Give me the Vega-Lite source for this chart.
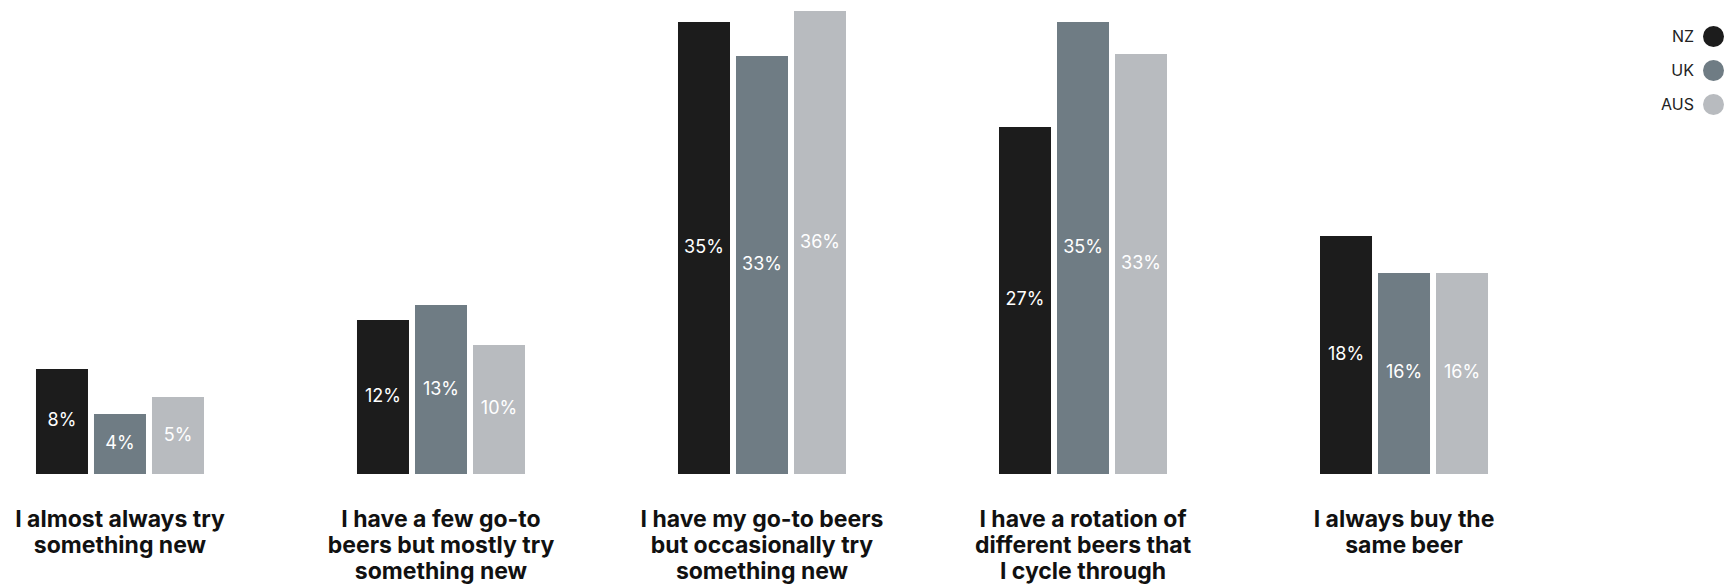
{
  "$schema": "https://vega.github.io/schema/vega-lite/v6.json",
  "width": 1524,
  "height": 474,
  "padding": {"left": 0, "top": 0, "right": 211, "bottom": 112},
  "autosize": {"type": "none"},
  "background": "white",
  "config": {"view": {"stroke": null}, "font": "Inter"},
  "data": {
    "values": [
      {"cat": "I almost always try|something new", "country": "NZ", "value": 8.2, "label": "8%"},
      {"cat": "I almost always try|something new", "country": "UK", "value": 4.68, "label": "4%"},
      {"cat": "I almost always try|something new", "country": "AUS", "value": 6.01, "label": "5%"},
      {"cat": "I have a few go-to|beers but mostly try|something new", "country": "NZ", "value": 12.02, "label": "12%"},
      {"cat": "I have a few go-to|beers but mostly try|something new", "country": "UK", "value": 13.19, "label": "13%"},
      {"cat": "I have a few go-to|beers but mostly try|something new", "country": "AUS", "value": 10.07, "label": "10%"},
      {"cat": "I have my go-to beers|but occasionally try|something new", "country": "NZ", "value": 35.28, "label": "35%"},
      {"cat": "I have my go-to beers|but occasionally try|something new", "country": "UK", "value": 32.63, "label": "33%"},
      {"cat": "I have my go-to beers|but occasionally try|something new", "country": "AUS", "value": 36.14, "label": "36%"},
      {"cat": "I have a rotation of|different beers that|I cycle through", "country": "NZ", "value": 27.09, "label": "27%"},
      {"cat": "I have a rotation of|different beers that|I cycle through", "country": "UK", "value": 35.28, "label": "35%"},
      {"cat": "I have a rotation of|different beers that|I cycle through", "country": "AUS", "value": 32.78, "label": "33%"},
      {"cat": "I always buy the|same beer", "country": "NZ", "value": 18.58, "label": "18%"},
      {"cat": "I always buy the|same beer", "country": "UK", "value": 15.69, "label": "16%"},
      {"cat": "I always buy the|same beer", "country": "AUS", "value": 15.69, "label": "16%"}
    ]
  },
  "encoding": {
    "x": {
      "field": "cat", "type": "nominal", "sort": null,
      "scale": {"paddingInner": 0.4766, "paddingOuter": 0.1121},
      "axis": {
        "title": null, "domain": false, "ticks": false,
        "labelAngle": 0, "labelExpr": "split(datum.label, '|')",
        "labelFont": "Inter", "labelFontWeight": "bold", "labelFontSize": 23,
        "labelColor": "#111111", "labelLineHeight": 26, "labelPadding": 34,
        "labelBaseline": "top", "labelLimit": 0, "labelOverlap": false
      }
    },
    "xOffset": {
      "field": "country", "type": "nominal",
      "scale": {"domain": ["NZ", "UK", "AUS"], "paddingInner": 0.1034, "paddingOuter": 0}
    }
  },
  "layer": [
    {
      "mark": {"type": "bar"},
      "encoding": {
        "y": {"field": "value", "type": "quantitative", "scale": {"domain": [0, 37], "nice": false}, "axis": null},
        "color": {
          "field": "country", "type": "nominal",
          "scale": {"domain": ["NZ", "UK", "AUS"], "range": ["#1c1c1c", "#6f7c84", "#b8bbbf"]},
          "legend": {
            "title": null, "orient": "none", "legendX": 1703, "legendY": 26,
            "symbolType": "circle", "symbolSize": 441, "symbolOpacity": 1,
            "symbolStrokeWidth": 0,
            "labelFont": "Inter", "labelFontSize": 16, "labelColor": "#222222",
            "labelAlign": "right", "labelOffset": -30, "rowPadding": 13
          }
        }
      }
    },
    {
      "transform": [{"calculate": "datum.value / 2", "as": "mid"}],
      "mark": {"type": "text", "color": "white", "fontSize": 18, "font": "Inter", "baseline": "middle"},
      "encoding": {
        "y": {"field": "mid", "type": "quantitative", "scale": {"domain": [0, 37], "nice": false}},
        "text": {"field": "label"}
      }
    }
  ]
}
